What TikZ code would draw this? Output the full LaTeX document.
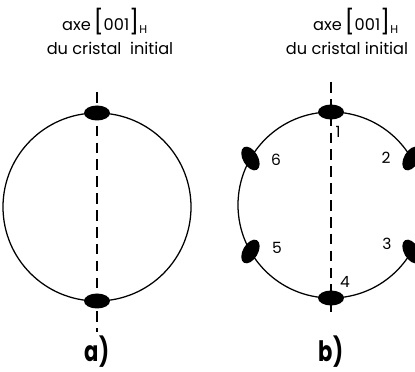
\documentclass[tikz,border=0pt]{standalone}
\usepackage{fontspec}
\setmainfont{Poppins}
\usetikzlibrary{positioning,shapes.geometric,calc}

\newlength{\unitpx}
\setlength{\unitpx}{0.025cm}
\tikzset{
  grain/.style={ellipse,fill=black,inner sep=0pt,minimum width=26\unitpx,minimum height=15\unitpx},
  axis/.style={line width=1.6pt,dash pattern=on 7.5pt off 4.5pt},
  title/.style={font=\fontsize{11.5}{13}\selectfont,inner sep=0pt},
  num/.style={font=\fontsize{11}{12}\selectfont,inner sep=1pt},
  panel/.style={font=\bfseries\fontsize{20}{22}\selectfont,inner sep=0pt,xscale=0.75}
}
\newcommand{\axelabel}{axe\,{\fontsize{17}{18}\selectfont[}001{\fontsize{17}{18}\selectfont]}$_{\mathrm{\fontsize{9}{9}\selectfont H}}$}

\begin{document}
\begin{tikzpicture}[x=0.025cm,y=-0.025cm]
  \useasboundingbox (0,0) rectangle (415,372);
  \clip (0,0) rectangle (415,372);

  % a) axe seul
  \node[title] (ta) at (105,22) {\axelabel};
  \node[title] (sa) at (110,48) {du cristal\ \ initial};
  \draw[line width=0.9pt] (97,207) circle (94);
  \coordinate (aTop) at (97,92);
  \coordinate (aBot) at (97,332);
  \draw[axis] (aTop) -- (aBot);
  \node[grain] (a1) at (97,113) {};
  \node[grain] (a2) at (97,301) {};
  \node[panel] (la) at (97,352) {a)};

  % b) six positions
  \node[title] (tb) at (356,22) {\axelabel};
  \node[title] (sb) at (347,48) {du cristal initial};
  \draw[line width=0.9pt] (331,205) circle (93);
  \coordinate (bTop) at (331,82);
  \coordinate (bBot) at (331,314);
  \draw[axis] (bTop) -- (bBot);
  \foreach \n/\a in {1/90,2/30,3/-30,4/-90,5/-150,6/150} {
    \node[grain,rotate=\a-90] (b\n) at ($(331,205)+(\a:93)$) {};
  }
  \node[num] (n1) at (338,132) {1};
  \node[num] (n2) at (386,158) {2};
  \node[num] (n3) at (387,244) {3};
  \node[num] (n4) at (345,282) {4};
  \node[num] (n5) at (277,248) {5};
  \node[num] (n6) at (276,160) {6};
  \node[panel] (lb) at (331,352) {b)};
\end{tikzpicture}
\end{document}
